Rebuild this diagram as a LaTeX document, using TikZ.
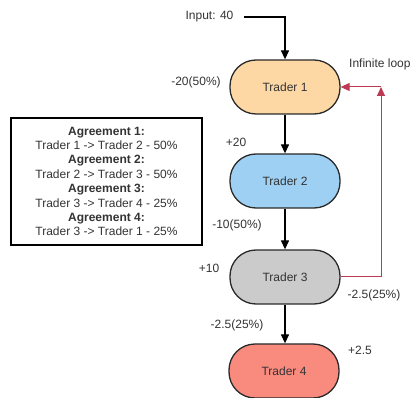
\documentclass[tikz,border=0pt]{standalone}
\usepackage{fontspec}
\setmainfont{Liberation Sans}
\usetikzlibrary{arrows.meta}
\definecolor{ink}{HTML}{333333}
\definecolor{edge}{HTML}{2A2A2A}
\definecolor{peach}{HTML}{FDD8A5}
\definecolor{sky}{HTML}{9DD0F3}
\definecolor{stone}{HTML}{CBCBCB}
\definecolor{salmon}{HTML}{F88A7E}
\definecolor{loopred}{HTML}{BE3A52}
\tikzset{
  trader/.style={draw=edge, line width=1.3pt, rounded corners=26pt,
    minimum width=110pt, minimum height=54pt, inner sep=0pt,
    text=ink, font=\fontsize{12}{14}\selectfont},
  lbl/.style={text=ink, inner sep=0pt, font=\fontsize{12}{14}\selectfont},
  flow/.style={draw=black, line width=1.3pt, -{Triangle[length=9pt,width=8pt]}},
  loopline/.style={draw=loopred, line width=1pt, -{Triangle[length=9pt,width=8pt]}},
  agreebox/.style={draw=black, line width=1.3pt, minimum width=191pt,
    minimum height=127pt, inner sep=0pt, align=center, text=ink,
    font=\fontsize{12}{14.4}\selectfont}
}
\begin{document}
\begin{tikzpicture}[x=1pt,y=-1pt]
\useasboundingbox (0,0) rectangle (410,398);

% traders
\node[trader, fill=peach]  (t1) at (285,87)  {Trader 1};
\node[trader, fill=sky]    (t2) at (285,181) {Trader 2};
\node[trader, fill=stone]  (t3) at (285,277) {Trader 3};
\node[trader, fill=salmon] (t4) at (284,371) {Trader 4};

% input
\node[lbl] (inp) at (209.5,17) {Input: 40};
\coordinate (inStart) at (244,17);
\draw[flow] (inStart) -| (t1.north);

% downward flow
\draw[flow] (t1.south) -- (t2.north);
\draw[flow] (t2.south) -- (t3.north);
\draw[flow] (t3.south) -- (t3.south |- t4.north);

% feedback loop from Trader 3 back to Trader 1
\coordinate (loopCorner) at (381,87);
\draw[loopline] (t3.east) -| (loopCorner);
\draw[loopline] (loopCorner) -- (t1.east);
\node[lbl, anchor=west] (loopTxt) at (349,64) {Infinite loop};

% amounts
\node[lbl] (a1) at (196,82)  {-20(50\%)};
\node[lbl] (a2) at (236,142) {+20};
\node[lbl] (a3) at (237,225) {-10(50\%)};
\node[lbl] (a4) at (209,268) {+10};
\node[lbl] (a5) at (374,295) {-2.5(25\%)};
\node[lbl] (a6) at (237,325) {-2.5(25\%)};
\node[lbl] (a7) at (360,350) {+2.5};

% agreements
\node[agreebox] (agr) at (106.5,181.5) {%
  \textbf{Agreement 1:}\\
  Trader 1 -> Trader 2 - 50\%\\
  \textbf{Agreement 2:}\\
  Trader 2 -> Trader 3 - 50\%\\
  \textbf{Agreement 3:}\\
  Trader 3 -> Trader 4 - 25\%\\
  \textbf{Agreement 4:}\\
  Trader 3 -> Trader 1 - 25\%};
\end{tikzpicture}
\end{document}
